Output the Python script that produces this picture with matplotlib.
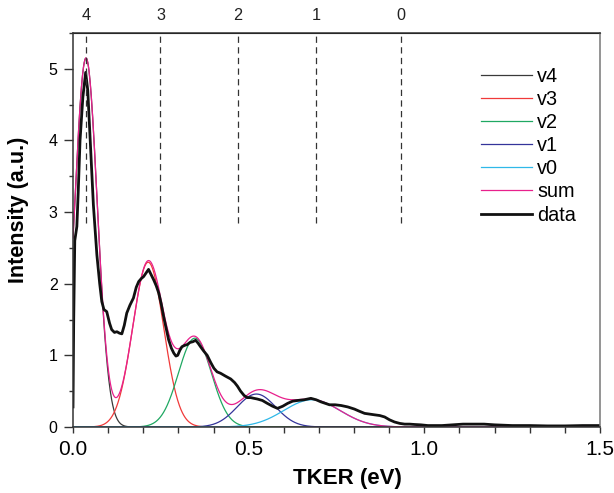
import numpy as np
import matplotlib
matplotlib.use('Agg')
import matplotlib.pyplot as plt
from matplotlib.ticker import MultipleLocator

plt.rcParams['font.family'] = ['Liberation Sans', 'DejaVu Sans']

tker = [0.0, 0.002, 0.005, 0.011, 0.015, 0.020, 0.028, 0.036, 0.042, 0.049,
        0.058, 0.068, 0.076, 0.082, 0.088, 0.096, 0.104, 0.110, 0.118, 0.125,
        0.132, 0.139, 0.146, 0.153, 0.162, 0.172, 0.180, 0.187, 0.194, 0.201,
        0.208, 0.215, 0.222, 0.230, 0.237, 0.244, 0.251, 0.258, 0.265, 0.272,
        0.280, 0.287, 0.293, 0.298, 0.304, 0.310, 0.318, 0.325, 0.333, 0.341,
        0.349, 0.356, 0.363, 0.372, 0.382, 0.392, 0.401, 0.410, 0.420, 0.434,
        0.449, 0.460, 0.468, 0.477, 0.487, 0.496, 0.506, 0.515, 0.525, 0.539,
        0.553, 0.568, 0.582, 0.597, 0.611, 0.625, 0.639, 0.658, 0.677, 0.692,
        0.706, 0.718, 0.730, 0.746, 0.763, 0.782, 0.801, 0.815, 0.830, 0.844,
        0.858, 0.873, 0.887, 0.901, 0.915, 0.930, 0.944, 0.958, 0.972, 0.990,
        1.010, 1.030, 1.050, 1.080, 1.110, 1.140, 1.170, 1.200, 1.250, 1.300,
        1.350, 1.400, 1.450, 1.500]
intensity = [0.28, 1.5, 2.6, 2.8, 3.3, 4.0, 4.6, 4.95, 4.7, 4.0,
             3.1, 2.4, 2.0, 1.75, 1.64, 1.61, 1.45, 1.36, 1.32, 1.33,
             1.31, 1.30, 1.42, 1.59, 1.70, 1.80, 1.95, 2.03, 2.07, 2.10,
             2.15, 2.20, 2.13, 2.05, 1.97, 1.87, 1.72, 1.54, 1.38, 1.22,
             1.10, 1.03, 0.99, 1.00, 1.07, 1.12, 1.14, 1.15, 1.18, 1.19,
             1.21, 1.17, 1.12, 1.06, 1.00, 0.90, 0.82, 0.77, 0.75, 0.71,
             0.67, 0.62, 0.57, 0.50, 0.44, 0.41, 0.41, 0.40, 0.39, 0.37,
             0.33, 0.29, 0.26, 0.29, 0.33, 0.36, 0.37, 0.38, 0.40, 0.38,
             0.35, 0.33, 0.31, 0.31, 0.30, 0.28, 0.25, 0.22, 0.19, 0.18,
             0.17, 0.16, 0.14, 0.10, 0.07, 0.05, 0.04, 0.04, 0.035, 0.03,
             0.02, 0.02, 0.02, 0.03, 0.04, 0.04, 0.04, 0.03, 0.02, 0.02,
             0.015, 0.015, 0.02, 0.02]

# gaussian fit components v4..v0 (centre, height, width)
comp_names = ['v4', 'v3', 'v2', 'v1', 'v0']
comp_center = [0.037, 0.214, 0.347, 0.522, 0.680]
comp_height = [5.15, 2.30, 1.24, 0.46, 0.38]
comp_sigma = [0.032, 0.044, 0.047, 0.055, 0.080]
comp_colors = ['#3a3a3a', '#f03a3a', '#1fa862', '#34349a', '#2fb8e8']

# vibrational level markers (top axis)
vib_pos = [0.037, 0.249, 0.469, 0.691, 0.934]
vib_labels = ['4', '3', '2', '1', '0']

fig = plt.figure(figsize=(6.14, 4.93), dpi=100)
ax = fig.add_axes([0.1189, 0.1339, 0.8583, 0.7992])

x = np.linspace(0, 1.5, 1501)
total = np.zeros_like(x)
for name, c, h, s, col in zip(comp_names, comp_center, comp_height, comp_sigma, comp_colors):
    y = h * np.exp(-(x - c) ** 2 / (2 * s ** 2))
    total += y
    ax.plot(x, y, color=col, lw=0.9, label=name)
ax.plot(x, total, color='#e8208c', lw=0.9, label='sum')
ax.plot(tker, intensity, color='#111111', lw=2.0, label='data')

ax.vlines(vib_pos, 2.85, 5.5, colors='#333333', lw=0.9, linestyles=(0, (5, 3.5)))

ax.set_xlim(0, 1.5)
ax.set_ylim(0, 5.5)
ax.xaxis.set_major_locator(MultipleLocator(0.5))
ax.xaxis.set_minor_locator(MultipleLocator(0.1))
ax.yaxis.set_major_locator(MultipleLocator(1))
ax.yaxis.set_minor_locator(MultipleLocator(0.5))
ax.xaxis.set_major_formatter(matplotlib.ticker.FormatStrFormatter('%.1f'))
ax.tick_params(axis='x', which='both', direction='out', length=4.2, width=1,
               color='#333333', labelsize=15, pad=5)
ax.tick_params(axis='y', which='major', direction='out', length=6.5, width=1,
               color='#333333', labelsize=11.5, pad=4.5)
ax.tick_params(axis='y', which='minor', direction='out', length=3, width=1,
               color='#333333')
for sp in ax.spines.values():
    sp.set_color('#333333')
    sp.set_linewidth(1.1)
ax.spines['right'].set_color('#777777')

top = ax.secondary_xaxis('top')
top.set_xticks(vib_pos)
top.set_xticklabels(vib_labels)
top.tick_params(length=0, labelsize=11.7, pad=7, colors='#222222')

ax.set_xlabel('TKER (eV)', fontsize=16, fontweight='bold')
ax.xaxis.set_label_coords(0.52, -0.105)
ax.set_ylabel('Intensity (a.u.)', fontsize=15.5, fontweight='bold')
ax.yaxis.set_label_coords(-0.083, 0.55)

ax.legend(loc='upper right', bbox_to_anchor=(0.97, 0.935), frameon=False,
          fontsize=14.3, handlelength=2.6, handletextpad=0.25,
          labelspacing=0.21, borderaxespad=0)

fig.savefig('out.png', dpi=100)
